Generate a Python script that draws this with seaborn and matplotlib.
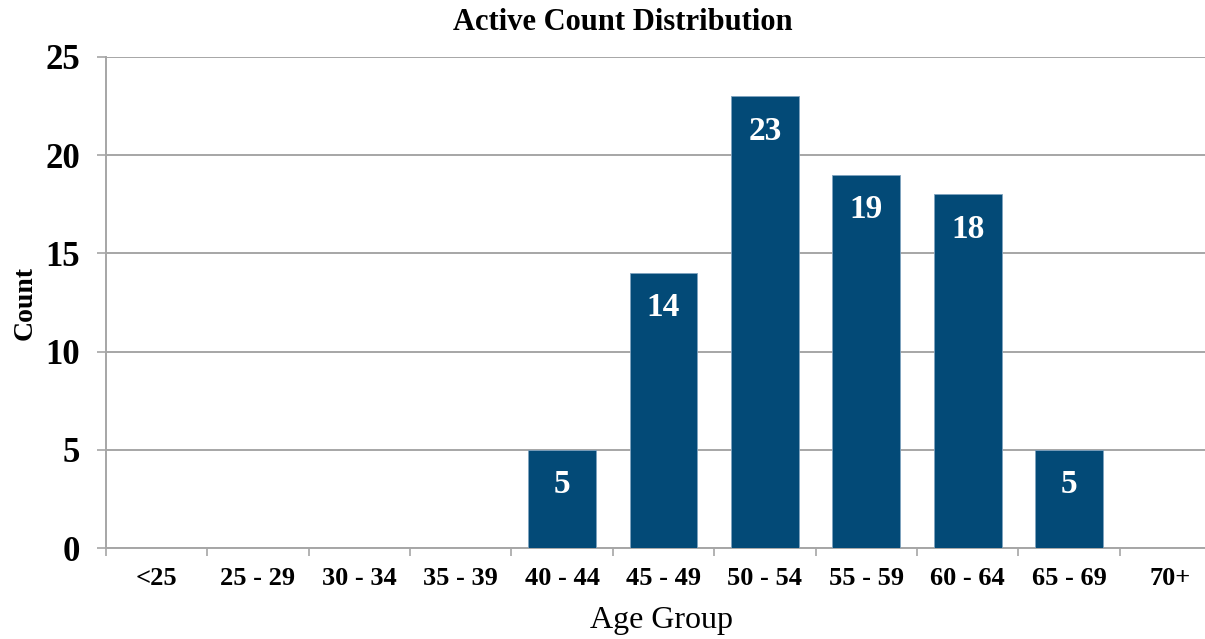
import numpy as np
import pandas as pd
import seaborn as sns
import matplotlib.pyplot as plt
from matplotlib.ticker import FixedLocator

sns.set_style("white")
plt.rcParams['font.family'] = ['Liberation Serif', 'DejaVu Serif']
plt.rcParams['text.color'] = 'black'
plt.rcParams['axes.labelcolor'] = 'black'
plt.rcParams['xtick.labelcolor'] = 'black'
plt.rcParams['ytick.labelcolor'] = 'black'

# Data
age_groups = ["<25", "25 - 29", "30 - 34", "35 - 39", "40 - 44", "45 - 49",
              "50 - 54", "55 - 59", "60 - 64", "65 - 69", "70+"]
counts = [0, 0, 0, 0, 5, 14, 23, 19, 18, 5, 0]
y_ticks = [0, 5, 10, 15, 20, 25]

df = pd.DataFrame({"Age Group": age_groups, "Count": counts})

bar_color = "#034A77"
grid_color = "#A6A6A6"

fig = plt.figure(figsize=(12.05, 6.39), dpi=100)
# plot area runs slightly past the right edge, as in the original
ax = fig.add_axes([106 / 1205, 0.1424, 1115 / 1205, 0.7684])

sns.barplot(data=df, x="Age Group", y="Count", color=bar_color, width=0.67,
            saturation=1, edgecolor="#7FA3BF", linewidth=0.6, ax=ax, zorder=3)

ax.set_xlim(-0.5, len(age_groups) - 0.5)
ax.set_ylim(0, 25)
ax.set_yticks(y_ticks)
ax.yaxis.grid(True, color=grid_color, lw=1.4, zorder=0)
ax.xaxis.grid(False)

for s in ["top", "right"]:
    ax.spines[s].set_visible(False)
for s in ["left", "bottom"]:
    ax.spines[s].set_color(grid_color)
    ax.spines[s].set_linewidth(1.4)

# bar labels inside near the top
for i, v in enumerate(counts):
    if v > 0:
        ax.annotate(str(v), (i, v), xytext=(0, -25), textcoords="offset points",
                    ha="center", va="center", color="white",
                    fontsize=24, fontweight="bold", zorder=4)

# tick marks at category boundaries
ax.xaxis.set_minor_locator(FixedLocator(np.arange(-0.5, len(age_groups), 1.0)))
ax.tick_params(axis="x", which="major", length=0, pad=14, labelsize=19)
ax.tick_params(axis="x", which="minor", length=6, width=1.2, color=grid_color,
               direction="out", bottom=True)
ax.tick_params(axis="y", which="major", length=6.5, width=1.2, color=grid_color,
               direction="out", left=True, pad=12, labelsize=25)
for lbl in ax.get_xticklabels() + ax.get_yticklabels():
    lbl.set_fontweight("bold")

ax.set_xlabel("Age Group", fontsize=23, va="center")
ax.set_ylabel("Count", fontsize=20, fontweight="bold", va="center")
ax.xaxis.set_label_coords((661 - 106) / 1115, -(620 - 548) / 491)
ax.yaxis.set_label_coords(-(106 - 25) / 1115, 0.5)

fig.text(623 / 1205, 1 - 22 / 639, "Active Count Distribution", ha="center",
         va="center", fontsize=22, fontweight="bold")

plt.savefig("out.png", dpi=100)
